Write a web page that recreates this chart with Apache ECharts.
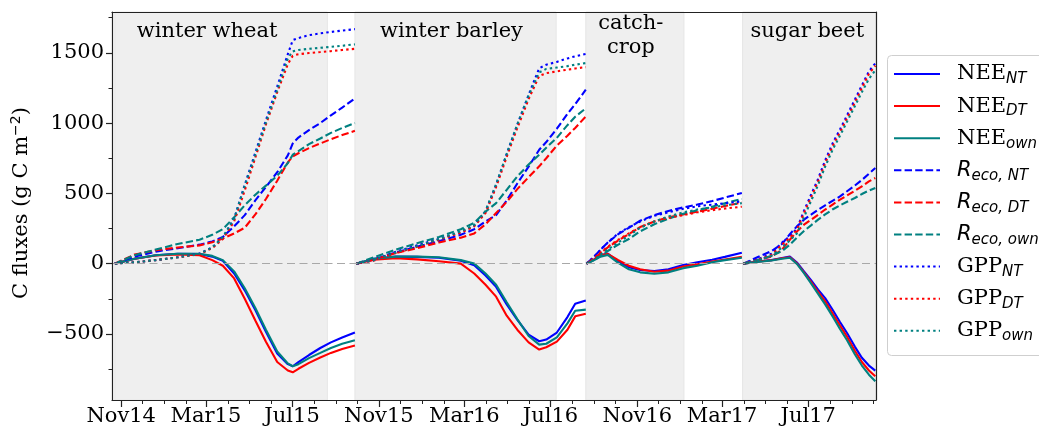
<!DOCTYPE html>
<html>
<head>
<meta charset="utf-8">
<script src="https://cdn.jsdelivr.net/npm/echarts@6/dist/echarts.min.js"></script>
<style>
  html, body { margin: 0; padding: 0; background: #ffffff; }
  #chart { width: 1039px; height: 434px; }
</style>
</head>
<body>
<div id="chart"></div>
<script>
// Sampling dates of the cumulative sums; every crop period restarts at zero.
const wheatDates  = ['2014-10-23','2014-11-20','2014-12-20','2015-01-20','2015-02-20','2015-03-10','2015-03-25','2015-04-10','2015-04-25','2015-05-10','2015-05-25','2015-06-10','2015-06-25','2015-07-02','2015-07-10','2015-07-25','2015-08-10','2015-08-25','2015-09-10','2015-09-28'];
const barleyDates = ['2015-09-30','2015-10-25','2015-11-25','2015-12-25','2016-01-25','2016-02-25','2016-03-15','2016-03-31','2016-04-15','2016-04-30','2016-05-15','2016-05-31','2016-06-15','2016-06-25','2016-07-10','2016-07-25','2016-08-05','2016-08-20'];
const catchDates  = ['2016-08-21','2016-09-01','2016-09-10','2016-09-20','2016-10-05','2016-10-20','2016-11-05','2016-11-25','2016-12-15','2017-01-05','2017-01-25','2017-02-15','2017-03-05','2017-03-29'];
const beetDates   = ['2017-03-31','2017-04-20','2017-05-10','2017-05-25','2017-06-05','2017-06-15','2017-06-25','2017-07-05','2017-07-15','2017-07-25','2017-08-05','2017-08-15','2017-08-25','2017-09-05','2017-09-15','2017-09-25','2017-10-04'];
const periodDates = [wheatDates, barleyDates, catchDates, beetDates];

// Cumulative fluxes (g C m-2), periods concatenated: wheat | barley | catch crop | sugar beet
const neeNT  = [0,35,60,70,68,50,20,-70,-190,-330,-485,-640,-715,-730,-700,-650,-600,-560,-525,-490,
                0,35,50,48,42,20,-12,-85,-165,-290,-400,-505,-552,-540,-490,-380,-285,-262,
                0,30,60,72,15,-25,-45,-52,-40,-10,10,28,48,78,
                0,15,25,40,50,8,-55,-118,-185,-245,-332,-415,-493,-590,-670,-725,-761];
const neeDT  = [0,35,58,66,60,25,-15,-105,-250,-405,-555,-700,-760,-773,-748,-706,-668,-635,-607,-583,
                0,28,38,30,17,0,-70,-150,-235,-370,-470,-560,-611,-595,-555,-470,-375,-356,
                0,30,60,70,25,-15,-40,-58,-50,-20,-5,15,30,48,
                0,14,24,38,45,2,-62,-130,-200,-268,-358,-440,-520,-620,-700,-760,-801];
const neeOwn = [0,35,60,70,70,55,25,-55,-175,-315,-470,-625,-710,-730,-715,-672,-635,-600,-570,-545,
                0,35,50,50,45,25,0,-70,-150,-275,-395,-515,-576,-570,-525,-425,-335,-327,
                0,25,50,62,5,-40,-62,-72,-62,-32,-15,10,25,42,
                0,12,22,35,42,-2,-68,-140,-215,-290,-380,-465,-545,-645,-725,-790,-837];
const recoNT  = [0,50,85,110,135,158,190,265,345,450,545,650,770,855,897,950,1000,1055,1110,1175,
                 0,30,80,120,160,205,245,300,345,450,570,690,810,865,960,1065,1135,1237,
                 0,50,100,150,210,255,305,345,375,400,420,445,470,502,
                 0,45,90,140,210,265,313,348,384,415,448,478,515,555,595,640,680];
const recoDT  = [0,65,95,115,130,152,178,215,255,350,460,590,720,763,785,822,855,885,915,945,
                 0,28,75,110,150,185,215,280,360,440,530,615,692,750,840,910,965,1047,
                 0,35,75,115,165,210,260,300,330,350,370,390,410,435,
                 0,25,50,100,170,228,277,312,348,385,422,455,485,518,550,585,609];
const recoOwn = [0,60,100,140,170,205,245,330,415,490,555,625,715,775,800,850,890,930,965,1000,
                 0,45,100,145,190,245,290,370,430,525,620,705,775,825,895,985,1045,1105,
                 0,25,55,90,135,175,230,280,320,355,380,405,430,460,
                 0,25,55,90,135,185,232,272,313,350,387,415,440,467,495,520,538];
const gppNT  = [0,10,25,45,72,115,185,320,560,790,1020,1260,1490,1590,1605,1625,1638,1648,1658,1668,
                0,25,85,130,175,225,270,370,560,780,990,1200,1390,1415,1435,1460,1475,1492,
                0,50,100,150,215,260,300,340,365,390,408,420,430,443,
                0,30,70,150,195,250,375,490,603,735,860,955,1055,1166,1268,1368,1425];
const gppDT  = [0,10,25,45,68,110,175,300,520,755,990,1220,1420,1478,1490,1498,1505,1512,1520,1528,
                0,22,75,120,170,220,265,360,545,760,965,1170,1335,1355,1368,1380,1388,1398,
                0,40,80,120,170,215,260,300,325,345,365,380,392,405,
                0,25,62,135,185,240,360,470,585,715,840,935,1035,1145,1250,1350,1408];
const gppOwn = [0,10,25,45,70,115,190,320,555,775,1005,1235,1460,1510,1520,1528,1535,1542,1550,1560,
                0,25,80,125,175,230,275,375,565,780,990,1195,1360,1385,1395,1405,1415,1427,
                0,30,65,100,150,200,255,300,335,365,385,400,415,430,
                0,22,55,115,165,215,330,445,560,690,815,910,1010,1120,1220,1315,1375];

// Crop periods (shaded) and their names
const cropNames = ['winter wheat', 'winter barley', 'catch-\ncrop', 'sugar beet'];
const cropSpans = [['2014-10-23','2015-08-20'], ['2015-09-28','2016-07-09'], ['2016-08-20','2017-01-06'], ['2017-03-30','2017-10-05']];

// Axis ranges and ticks
const xRange = ['2014-10-19', '2017-10-05'];
const yRange = [-970, 1790];
const xMajorTicks = ['2014-11-01','2015-03-01','2015-07-01','2015-11-01','2016-03-01','2016-07-01','2016-11-01','2017-03-01','2017-07-01'];
const yMajorTicks = [-500, 0, 500, 1000, 1500];
const yMinorTicks = [-750, -250, 250, 750, 1250, 1750];

const ts = s => Date.parse(s);
const MONTHS = ['Jan','Feb','Mar','Apr','May','Jun','Jul','Aug','Sep','Oct','Nov','Dec'];

// monthly minor ticks across the x range
const xMinorTicks = [];
for (let y = 2014; y <= 2017; y++) {
  for (let m = 0; m < 12; m++) {
    const t = Date.UTC(y, m, 1);
    if (t >= ts(xRange[0]) && t <= ts(xRange[1])) xMinorTicks.push(t);
  }
}

// one line per flux, broken between crop periods
function buildLine(values) {
  const out = [];
  let k = 0;
  periodDates.forEach((dates, p) => {
    dates.forEach(d => { out.push([ts(d), values[k++]]); });
    if (p < periodDates.length - 1) out.push([ts(dates[dates.length - 1]) + 3600e3, '-']);
  });
  return out;
}

const BLUE = '#0000ff', RED = '#ff0000', TEAL = '#008080';
const DASH = [7.4, 3.2], DOT = [2.4, 3.2];
const fluxSeries = [
  ['NEE_NT',   neeNT,   BLUE, 'solid'],
  ['NEE_DT',   neeDT,   RED,  'solid'],
  ['NEE_own',  neeOwn,  TEAL, 'solid'],
  ['Reco_NT',  recoNT,  BLUE, DASH],
  ['Reco_DT',  recoDT,  RED,  DASH],
  ['Reco_own', recoOwn, TEAL, DASH],
  ['GPP_NT',   gppNT,   BLUE, DOT],
  ['GPP_DT',   gppDT,   RED,  DOT],
  ['GPP_own',  gppOwn,  TEAL, DOT]
];

const legendText = {
  NEE_NT: '{g| }{m|NEE}{s|NT}',  NEE_DT: '{g| }{m|NEE}{s|DT}',  NEE_own: '{g| }{m|NEE}{s|own}',
  Reco_NT: '{g| }{r|R}{t|eco, NT}', Reco_DT: '{g| }{r|R}{t|eco, DT}', Reco_own: '{g| }{r|R}{t|eco, own}',
  GPP_NT: '{g| }{m|GPP}{s|NT}',  GPP_DT: '{g| }{m|GPP}{s|DT}',  GPP_own: '{g| }{m|GPP}{s|own}'
};

const SERIF = "'DejaVu Serif', 'Liberation Serif', serif";
const SANS = "'DejaVu Sans', 'Noto Sans', sans-serif";
const labelShift = [[-14, 0], [-4, 0], [-4, -8], [-2, 0]];

const chart = echarts.init(document.getElementById('chart'), null, { renderer: 'canvas' });

const series = fluxSeries.map(([name, vals, color, type]) => ({
  name: name,
  type: 'line',
  data: buildLine(vals),
  symbol: 'none',
  showSymbol: false,
  connectNulls: false,
  z: 3,
  lineStyle: { color: color, width: 2.1, type: type },
  itemStyle: { color: color },
  emphasis: { disabled: true },
  animation: false
}));

// background layer: crop shading and the zero reference line
series.unshift({
  name: 'background',
  type: 'line',
  data: [],
  z: 1,
  silent: true,
  animation: false,
  markArea: {
    silent: true,
    itemStyle: { color: '#efefef', borderColor: '#e6e6e6', borderWidth: 1 },
    label: {
      show: true, position: 'insideTop', distance: 8,
      fontFamily: SERIF, fontSize: 21, color: '#000', lineHeight: 24, align: 'center'
    },
    data: cropSpans.map((s, i) => [
      { xAxis: ts(s[0]), name: cropNames[i], label: { offset: labelShift[i] } },
      { xAxis: ts(s[1]) }
    ])
  },
  markLine: {
    silent: true,
    symbol: ['none', 'none'],
    label: { show: false },
    lineStyle: { color: '#a8a8a8', width: 1.2, type: [8, 4.5] },
    data: [{ yAxis: 0 }]
  }
});

const axisColor = '#222';
const frameAxis = { show: true, onZero: false, lineStyle: { color: axisColor, width: 1.2 } };
chart.setOption({
  animation: false,
  backgroundColor: '#ffffff',
  grid: { left: 112, right: 163, top: 12, bottom: 34, show: false },
  legend: {
    data: fluxSeries.map(s => s[0]),
    orient: 'vertical',
    left: 887, top: 55,
    itemWidth: 46, itemHeight: 14, itemGap: 8.6,
    padding: [8.5, 6, 8, 6],
    selectedMode: false,
    itemStyle: { opacity: 0 },
    formatter: name => legendText[name],
    textStyle: {
      color: '#000',
      rich: {
        g: { width: 12 },
        m: { fontFamily: SERIF, fontSize: 21, lineHeight: 26, color: '#000' },
        s: { fontFamily: SANS, fontStyle: 'italic', fontSize: 15, lineHeight: 16, verticalAlign: 'bottom', color: '#000' },
        r: { fontFamily: SANS, fontStyle: 'italic', fontSize: 21, lineHeight: 26, color: '#000' },
        t: { fontFamily: SANS, fontStyle: 'italic', fontSize: 15, lineHeight: 12, verticalAlign: 'bottom', color: '#000' }
      }
    }
  },
  xAxis: [
    {
      type: 'value', min: ts(xRange[0]), max: ts(xRange[1]), z: 10,
      axisLine: frameAxis,
      axisTick: { show: true, customValues: xMajorTicks.map(ts), length: 7, lineStyle: { color: axisColor, width: 1.2 } },
      axisLabel: {
        customValues: xMajorTicks.map(ts), margin: 6,
        fontFamily: SERIF, fontSize: 21, color: '#000',
        formatter: v => { const d = new Date(v); return MONTHS[d.getUTCMonth()] + String(d.getUTCFullYear()).slice(2); }
      },
      splitLine: { show: false }
    },
    {
      type: 'value', min: ts(xRange[0]), max: ts(xRange[1]), position: 'bottom', z: 10,
      axisLine: { show: false, onZero: false },
      axisTick: { show: true, customValues: xMinorTicks, length: 4, lineStyle: { color: axisColor, width: 1 } },
      axisLabel: { show: false },
      splitLine: { show: false }
    },
    {
      type: 'value', min: ts(xRange[0]), max: ts(xRange[1]), position: 'top', z: 10,
      axisLine: frameAxis, axisTick: { show: false }, axisLabel: { show: false }, splitLine: { show: false }
    }
  ],
  yAxis: [
    {
      type: 'value', min: yRange[0], max: yRange[1], z: 10,
      axisLine: frameAxis,
      axisTick: { show: true, customValues: yMajorTicks, length: 6, lineStyle: { color: axisColor, width: 1.2 } },
      axisLabel: {
        customValues: yMajorTicks, margin: 8,
        fontFamily: SERIF, fontSize: 21, color: '#000',
        formatter: v => (v < 0 ? '\u2212' + Math.abs(v) : String(v))
      },
      splitLine: { show: false }
    },
    {
      type: 'value', min: yRange[0], max: yRange[1], position: 'left', z: 10,
      axisLine: { show: false, onZero: false },
      axisTick: { show: true, customValues: yMinorTicks, length: 3.5, lineStyle: { color: axisColor, width: 1 } },
      axisLabel: { show: false },
      splitLine: { show: false }
    },
    {
      type: 'value', min: yRange[0], max: yRange[1], position: 'right', z: 10,
      axisLine: frameAxis, axisTick: { show: false }, axisLabel: { show: false }, splitLine: { show: false }
    }
  ],
  graphic: [
    {
      // legend frame
      type: 'rect',
      z: 0,
      shape: { x: 887.5, y: 55.5, width: 180, height: 300, r: 4 },
      style: { fill: '#ffffff', stroke: '#cfcfcf', lineWidth: 1 }
    },
    {
      type: 'text',
      x: 22, y: 203,
      rotation: Math.PI / 2,
      style: {
        text: '{a|C fluxes (g C m}{b|\u22122}{a|)}',
        align: 'center', verticalAlign: 'middle',
        textAlign: 'center', textVerticalAlign: 'middle',
        rich: {
          a: { fontFamily: SERIF, fontSize: 21, lineHeight: 26, fill: '#000', color: '#000' },
          b: { fontFamily: SANS, fontSize: 14, lineHeight: 14, verticalAlign: 'top', fill: '#000', color: '#000' }
        }
      }
    }
  ],
  series: series
});
</script>
</body>
</html>
